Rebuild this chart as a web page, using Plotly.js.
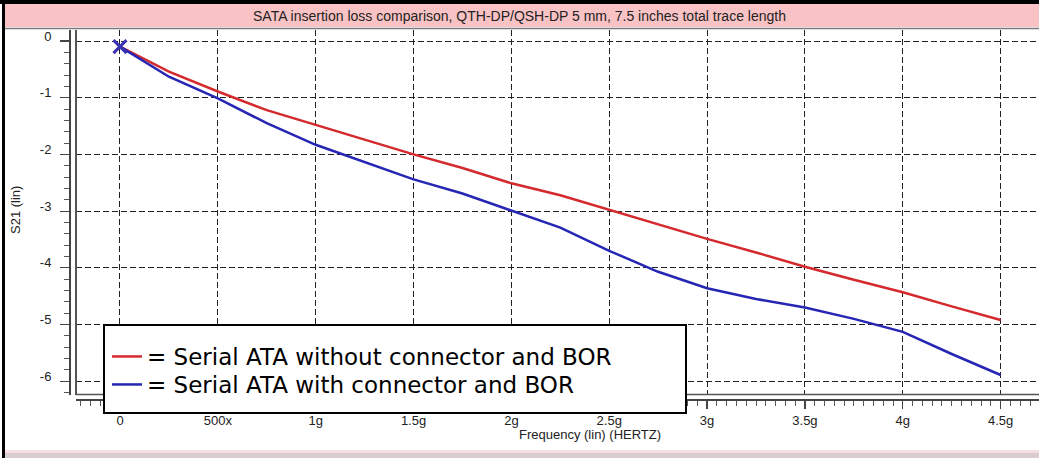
<!DOCTYPE html>
<html>
<head>
<meta charset="utf-8">
<script src="https://cdn.plot.ly/plotly-3.0.1.min.js"></script>
<style>
  html, body { margin: 0; padding: 0; background: #ffffff; }
  #chart { width: 1039px; height: 458px; }
</style>
</head>
<body>
<div id="chart"></div>
<script>
// ---- data ----
const freqHz = [0, 2.5e8, 5e8, 7.5e8, 1e9, 1.25e9, 1.5e9, 1.75e9, 2e9, 2.25e9, 2.5e9,
                2.75e9, 3e9, 3.25e9, 3.5e9, 3.75e9, 4e9, 4.25e9, 4.5e9];
const s21NoConnector = [-0.10, -0.54, -0.89, -1.22, -1.48, -1.74, -2.00, -2.24, -2.51, -2.72, -2.98,
                        -3.24, -3.49, -3.73, -3.98, -4.21, -4.43, -4.68, -4.92];
const s21WithConnector = [-0.10, -0.63, -1.01, -1.45, -1.83, -2.14, -2.44, -2.69, -2.99, -3.29, -3.70,
                          -4.07, -4.36, -4.55, -4.70, -4.90, -5.13, -5.52, -5.89];
const seriesNames = ['= Serial ATA without connector and BOR', '= Serial ATA with connector and BOR'];
const xTickVals = [0, 5e8, 1e9, 1.5e9, 2e9, 2.5e9, 3e9, 3.5e9, 4e9, 4.5e9];
const xTickText = ['0', '500x', '1g', '1.5g', '2g', '2.5g', '3g', '3.5g', '4g', '4.5g'];
const yTickVals = [0, -1, -2, -3, -4, -5, -6];
const yTickText = ['0', '-1', '-2', '-3', '-4', '-5', '-6'];
const chartTitle = 'SATA insertion loss comparison, QTH-DP/QSH-DP 5 mm, 7.5 inches total trace length';
const xTitle = 'Frequency (lin) (HERTZ)';
const yTitle = 'S21 (lin)';

// ---- geometry helpers (pixel -> paper) ----
const W = 1039, H = 458, ML = 70, MR = 0, MT = 30, MB = 58;
const PW = W - ML - MR, PH = H - MT - MB;
const px = x => (x - ML) / PW;
const py = y => (H - MB - y) / PH;

const red = '#d42a2e';
const blue = '#2626b4';
const font = 'Arial, "Liberation Sans", sans-serif';
const legendFont = { family: '"DejaVu Sans", Arial, sans-serif', size: 23, color: '#000' };

const traces = [
  { x: freqHz, y: s21NoConnector, name: seriesNames[0], mode: 'lines', legend: 'legend',
    line: { color: red, width: 2.5 }, hoverinfo: 'skip' },
  { x: freqHz, y: s21WithConnector, name: seriesNames[1], mode: 'lines', legend: 'legend2',
    line: { color: blue, width: 2.5 }, hoverinfo: 'skip' },
  { x: [freqHz[0]], y: [s21WithConnector[0]], mode: 'markers', showlegend: false,
    marker: { symbol: 'x-thin', size: 13, line: { color: '#3a32b0', width: 3 } }, hoverinfo: 'skip' }
];

const legendBase = {
  x: px(107), xanchor: 'left', xref: 'paper',
  yanchor: 'top', yref: 'paper',
  bgcolor: 'rgba(0,0,0,0)', borderwidth: 0,
  font: legendFont, itemwidth: 30
};

const layout = {
  width: W, height: H,
  margin: { l: ML, r: MR, t: MT, b: MB, pad: 0 },
  paper_bgcolor: '#ffffff',
  plot_bgcolor: '#ffffff',
  font: { family: font, size: 13, color: '#222' },
  title: {
    text: chartTitle,
    font: { family: font, size: 14, color: '#222' },
    x: 0.5, xref: 'container', xanchor: 'center',
    y: 1 - 16 / H, yref: 'container', yanchor: 'middle'
  },
  xaxis: {
    domain: [px(76), 1],
    anchor: 'free', position: 0,
    range: [-0.2248e9, 4.696e9],
    tickmode: 'array', tickvals: xTickVals, ticktext: xTickText,
    ticks: 'outside', ticklen: 8, tickwidth: 1.2, tickcolor: '#444',
    minor: { tickmode: 'linear', tick0: 0, dtick: 5e7, ticks: 'outside', ticklen: 5, tickcolor: '#555', tickwidth: 1, showgrid: false },
    showline: true, linecolor: '#444', linewidth: 2,
    showgrid: true, gridcolor: '#222', gridwidth: 1, griddash: '6px,3px',
    zeroline: false,
    tickfont: { family: font, size: 13, color: '#222' },
    fixedrange: true
  },
  yaxis: {
    domain: [py(395), 1],
    anchor: 'free', position: 0,
    range: [-6.243, 0.194],
    tickmode: 'array', tickvals: yTickVals, ticktext: yTickText,
    ticks: 'outside', ticklen: 9, tickwidth: 1.2, tickcolor: '#444',
    minor: { tickmode: 'linear', tick0: 0, dtick: 0.2, ticks: 'outside', ticklen: 5, tickcolor: '#555', tickwidth: 1, showgrid: false },
    showline: true, linecolor: '#444', linewidth: 2,
    showgrid: true, gridcolor: '#222', gridwidth: 1, griddash: '6px,3px',
    zeroline: false,
    ticklabelstandoff: 6,
    ticklabelshift: -5,
    tickfont: { family: font, size: 13, color: '#222' },
    fixedrange: true
  },
  showlegend: true,
  legend: Object.assign({}, legendBase, { y: py(335) }),
  legend2: Object.assign({}, legendBase, { y: py(363) }),
  annotations: [
    { text: xTitle, xref: 'paper', yref: 'paper', x: px(590), y: py(435),
      xanchor: 'center', yanchor: 'middle', showarrow: false,
      font: { family: font, size: 13, color: '#222' } },
    { text: yTitle, xref: 'paper', yref: 'paper', x: px(15), y: py(210),
      xanchor: 'center', yanchor: 'middle', showarrow: false, textangle: -90,
      font: { family: font, size: 13, color: '#222' } }
  ],
  shapes: [
    // outer black frame (top and left)
    { type: 'rect', xref: 'paper', yref: 'paper', x0: px(0), x1: px(W), y0: py(0), y1: py(4),
      fillcolor: '#000', line: { width: 0 }, layer: 'below' },
    { type: 'rect', xref: 'paper', yref: 'paper', x0: px(2), x1: px(5), y0: py(0), y1: py(H),
      fillcolor: '#000', line: { width: 0 }, layer: 'below' },
    // pink title bar
    { type: 'rect', xref: 'paper', yref: 'paper', x0: px(5), x1: px(W), y0: py(4), y1: py(27),
      fillcolor: '#f9c2c4', line: { width: 0 }, layer: 'below' },
    { type: 'line', xref: 'paper', yref: 'paper', x0: px(5), x1: px(W), y0: py(28.5), y1: py(28.5),
      line: { color: '#7a7a7a', width: 1.5 }, layer: 'below' },
    // bottom pale strip
    { type: 'rect', xref: 'paper', yref: 'paper', x0: px(5), x1: px(W), y0: py(450), y1: py(453),
      fillcolor: '#f6dfe3', line: { width: 0 }, layer: 'below' },
    { type: 'rect', xref: 'paper', yref: 'paper', x0: px(5), x1: px(W), y0: py(453), y1: py(H),
      fillcolor: '#d9cdd0', line: { width: 0 }, layer: 'below' },
    // plot frame (left and bottom)
    { type: 'line', xref: 'paper', yref: 'paper', x0: px(76), x1: px(76), y0: py(395), y1: py(30),
      line: { color: '#555', width: 2 }, layer: 'above' },
    { type: 'line', xref: 'paper', yref: 'paper', x0: px(76), x1: px(W), y0: py(394.5), y1: py(394.5),
      line: { color: '#555', width: 1.5 }, layer: 'above' },
    // legend box
    { type: 'rect', xref: 'paper', yref: 'paper', x0: px(104), x1: px(686), y0: py(325), y1: py(413),
      fillcolor: '#ffffff', line: { color: '#000', width: 2 }, layer: 'above' }
  ]
};

Plotly.newPlot('chart', traces, layout, { staticPlot: true, displayModeBar: false });
</script>
</body>
</html>
